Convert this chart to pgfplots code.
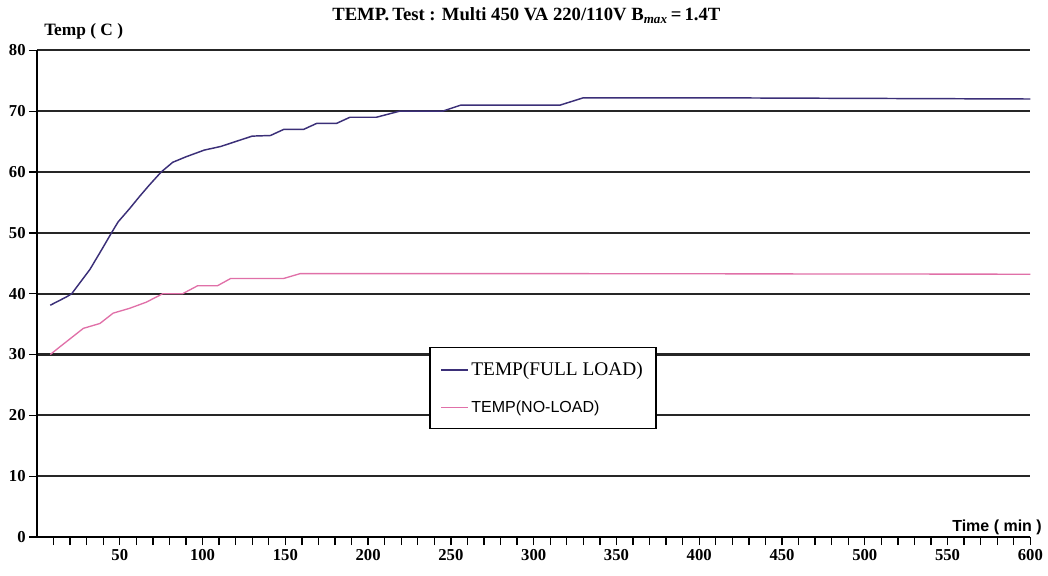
\documentclass[border=0pt]{standalone}
\usepackage{pgfplots}
\pgfplotsset{compat=1.18}
\usepackage{fontspec}
\setmainfont{Liberation Serif}
\newfontfamily\arialfont{Liberation Sans}
\definecolor{fullc}{HTML}{3B2F78}
\definecolor{noc}{HTML}{E070A8}
\begin{document}
\begin{tikzpicture}[x=1pt,y=1pt]
\path[use as bounding box] (-27.75,-28.5) rectangle (758.25,402.75);
\begin{axis}[
  at={(0,0)}, anchor=south west,
  scale only axis, width=745pt, height=365pt,
  xmin=0, xmax=600, ymin=0, ymax=80,
  axis x line=bottom, axis y line=left,
  axis line style={-, line width=1.2pt, black},
  ytick={0,10,...,80},
  xtick={50,100,...,600},
  minor xtick={10,20,...,590},
  ymajorgrids,
  grid style={line width=1.6pt, black!85},
  tick align=outside,
  major tick length=6pt, minor tick length=6pt,
  tick style={black, line width=1pt},
  every minor tick/.style={black, line width=1pt},
  tick label style={font=\bfseries\fontsize{12.5}{14}\selectfont},
  yticklabel style={xshift=1pt},
  /pgf/number format/assume math mode=true,
  legend style={at={(axis cs:237,31.2)}, anchor=north west, draw=black,
    line width=0.9pt, inner xsep=8pt, inner ysep=9pt, row sep=13pt, fill=white},
  legend cell align=left,
  legend image code/.code={\draw[#1] (0pt,0pt) -- (20pt,0pt);},
]
\addplot[color=fullc, line width=1.1pt] coordinates {
(8,38.1) (18,39.5) (21,40) (32,44) (39,47.2) (45,50) (49,51.8) (56,54)
(62,56) (68,57.9) (75,60) (82,61.6) (90,62.5) (101,63.6) (111,64.2)
(121,65.1) (130,65.9) (141,66) (149,67) (161,67) (169,68) (181,68)
(189,69) (205,69) (219,70) (245,70) (256,71) (316,71) (330,72.2)
(400,72.2) (500,72.1) (600,72.0)
};
\addlegendentry{\fontsize{14.5}{16}\selectfont TEMP(FULL LOAD)}
\addplot[color=noc, line width=1.0pt] coordinates {
(8,30) (14,31.3) (28,34.3) (38,35.1) (46,36.8) (56,37.6) (66,38.6)
(76,40) (88,40) (97,41.3) (109,41.3) (117,42.5) (149,42.5) (159,43.3)
(300,43.3) (600,43.2)
};
\addlegendentry{\arialfont\fontsize{12}{14}\selectfont TEMP(NO-LOAD)}
\end{axis}
\node[font=\bfseries\fontsize{14}{16}\selectfont] at (367,391) {TEMP.\,Test : Multi 450 VA 220/110V B\textsubscript{\itshape max}\,=\,1.4T};
\node[font=\bfseries\fontsize{13}{15}\selectfont] at (35,379) {Temp ( C )};
\node[font=\arialfont\bfseries\fontsize{12}{14}\selectfont] at (720,7) {Time ( min )};
\end{tikzpicture}
\end{document}
